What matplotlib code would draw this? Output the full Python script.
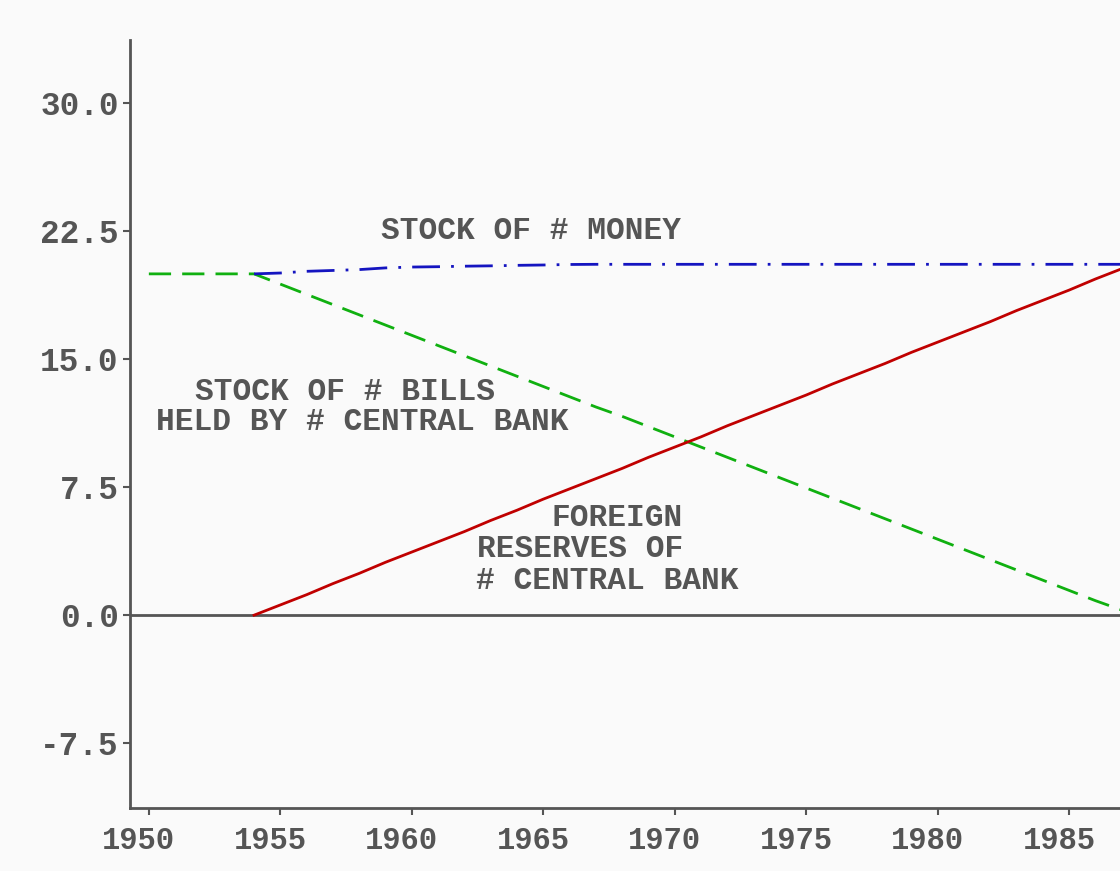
import numpy as np
import matplotlib
matplotlib.use("Agg")
import matplotlib.pyplot as plt
import matplotlib.transforms as mtransforms

############################################
# data
years_bills = [1950, 1951, 1952, 1953, 1954, 1955, 1956, 1957, 1958, 1959,
               1960, 1961, 1962, 1963, 1964, 1965, 1966, 1967, 1968, 1969,
               1970, 1971, 1972, 1973, 1974, 1975, 1976, 1977, 1978, 1979,
               1980, 1981, 1982, 1983, 1984, 1985, 1986, 1987]
bills = [20.0, 20.0, 20.0, 20.0, 20.0, 19.4, 18.8, 18.2, 17.6, 17.0,
         16.4, 15.8, 15.2, 14.6, 14.0, 13.4, 12.8, 12.2, 11.65, 11.05,
         10.45, 9.85, 9.25, 8.65, 8.05, 7.45, 6.85, 6.25, 5.65, 5.05,
         4.45, 3.85, 3.25, 2.65, 2.05, 1.45, 0.85, 0.3]

years = [1954, 1955, 1956, 1957, 1958, 1959, 1960, 1961, 1962, 1963,
         1964, 1965, 1966, 1967, 1968, 1969, 1970, 1971, 1972, 1973,
         1974, 1975, 1976, 1977, 1978, 1979, 1980, 1981, 1982, 1983,
         1984, 1985, 1986, 1987]
money = [20.0, 20.05, 20.15, 20.2, 20.25, 20.35, 20.4, 20.42, 20.45, 20.47,
         20.5, 20.52, 20.55, 20.56, 20.56, 20.56, 20.56, 20.56, 20.56, 20.56,
         20.56, 20.56, 20.56, 20.56, 20.56, 20.56, 20.56, 20.56, 20.56, 20.56,
         20.56, 20.56, 20.56, 20.56]
reserves = [0.0, 0.6, 1.2, 1.85, 2.45, 3.1, 3.7, 4.3, 4.9, 5.55,
            6.15, 6.8, 7.4, 8.0, 8.6, 9.25, 9.85, 10.45, 11.1, 11.7,
            12.3, 12.9, 13.55, 14.15, 14.75, 15.4, 16.0, 16.6, 17.2, 17.85,
            18.45, 19.05, 19.7, 20.3]

x_ticks = [1950, 1955, 1960, 1965, 1970, 1975, 1980, 1985]
y_ticks = [-7.5, 0.0, 7.5, 15.0, 22.5, 30.0]

#############################################
## Plotting
txt = '#555555'
mono = ['Liberation Mono', 'DejaVu Sans Mono']
fig = plt.figure(figsize=(11.2, 8.71), dpi=100, facecolor='#fafafa')
ax = fig.add_axes([0.116, 0.0723, 0.956, 0.8817])
ax.set_facecolor('#fafafa')

ax.plot(years_bills, bills, color='#10b010', lw=2, dashes=(8, 4))
ax.plot(years, money, color='#1414c0', lw=2, dashes=(10, 4, 1, 4))
ax.plot(years, reserves, color='#c00000', lw=2)
ax.axhline(0, color=txt, lw=2, zorder=1)

# labels
font = dict(family=mono, fontsize=22.5, fontweight='bold', color=txt,
            ha='center', va='center')
ax.text(1964.55, 22.5, 'STOCK OF # MONEY', **font)
ax.text(1957.45, 13.1, 'STOCK OF # BILLS', **font)
ax.text(1958.1, 11.3, 'HELD BY # CENTRAL BANK', **font)
ax.text(1967.8, 5.7, 'FOREIGN', **font)
ax.text(1966.4, 3.85, 'RESERVES OF', **font)
ax.text(1967.45, 2.0, '# CENTRAL BANK', **font)

# axes
ax.set_xlim(1949.28, 1990)
ax.set_ylim(-11.3, 33.7)
ax.set_xticks(x_ticks)
ax.set_yticks(y_ticks)
ax.set_yticklabels(['%.1f' % v for v in y_ticks])
for s in ['top', 'right']:
    ax.spines[s].set_visible(False)
for s in ['left', 'bottom']:
    ax.spines[s].set_color(txt)
    ax.spines[s].set_linewidth(2)
ax.tick_params(colors=txt, width=1.5, length=5)
ax.tick_params(axis='y', pad=3, labelsize=23.5)
ax.tick_params(axis='x', pad=8, labelsize=22)

# x labels sit a little left of their ticks in the original
shift = mtransforms.ScaledTranslation(-10 / 100, 0, fig.dpi_scale_trans)
for lab in ax.get_xticklabels():
    lab.set_transform(lab.get_transform() + shift)
for lab in ax.get_xticklabels() + ax.get_yticklabels():
    lab.set_family(mono)
    lab.set_fontweight('bold')

fig.savefig('out.png', dpi=100, facecolor=fig.get_facecolor())
